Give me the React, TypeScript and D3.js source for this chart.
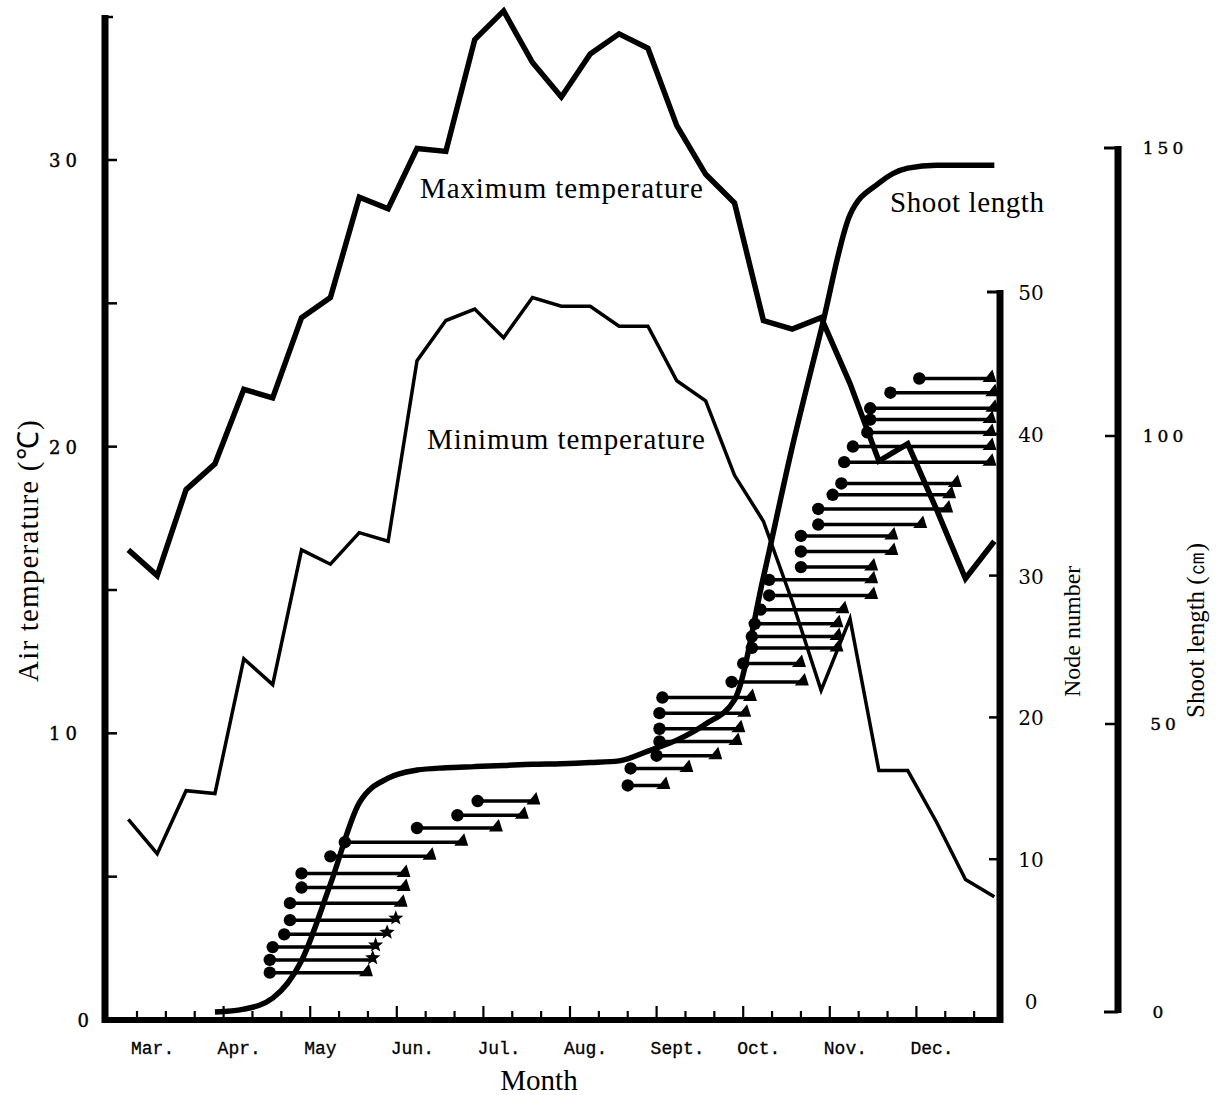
import React from "react";
import * as d3 from "d3";

// ---------- data ----------
const monthLabels = ["Mar.", "Apr.", "May", "Jun.", "Jul.", "Aug.", "Sept.", "Oct.", "Nov.", "Dec."];

// one value per 10-day period (31 readings, Mar -> Dec)
const maxTemperature = [16.4, 15.5, 18.5, 19.4, 22.0, 21.7, 24.5, 25.2, 28.7, 28.3, 30.4, 30.3, 34.2, 35.2, 33.4, 32.2, 33.7, 34.4, 33.9, 31.2, 29.5, 28.5, 24.4, 24.1, 24.5, 22.2, 19.5, 20.1, 17.8, 15.4, 16.7];
const minTemperature = [7.0, 5.8, 8.0, 7.9, 12.6, 11.7, 16.4, 15.9, 17.0, 16.7, 23.0, 24.4, 24.8, 23.8, 25.2, 24.9, 24.9, 24.2, 24.2, 22.3, 21.6, 19.0, 17.4, 14.6, 11.5, 14.0, 8.7, 8.7, 6.9, 4.9, 4.3];
const shootLength: (number | null)[] = [null, null, null, 0, 0.5, 2.4, 8.9, 22.2, 36.3, 40.6, 42.0, 42.4, 42.6, 42.8, 43.0, 43.1, 43.3, 43.6, 45.3, 47.2, 50.0, 54.2, 75.5, 98.1, 118.4, 138.4, 143.9, 146.5, 147.0, 147.0, 147.0];

const tempTicks = [0, 10, 20, 30];
const tempMinorTicks = [5, 10, 15, 20, 25, 30];
const nodeTicks = [0, 10, 20, 30, 40, 50];
const shootTicks = [0, 50, 100, 150];

// node rows: node number, date of unfolding (circle) and date of fall (triangle / star)
const nodeNumber = [2.0, 2.9, 3.8, 4.7, 5.7, 6.9, 8.0, 9.0, 10.2, 11.2, 12.2, 13.1, 14.1, 15.2, 16.4, 17.3, 18.3, 19.2, 20.3, 21.4, 22.5, 23.8, 24.9, 25.7, 26.6, 27.6, 28.6, 29.7, 30.6, 31.7, 32.8, 33.6, 34.7, 35.7, 36.5, 38.0, 39.1, 40.1, 41.0, 41.8, 42.9, 43.9];
const unfoldDate = ["04-17", "04-17", "04-18", "04-22", "04-24", "04-24", "04-28", "04-28", "05-08", "05-13", "06-08", "06-22", "06-29", "08-21", "08-22", "08-31", "09-02", "09-02", "09-02", "09-03", "09-27", "10-01", "10-04", "10-04", "10-05", "10-07", "10-10", "10-10", "10-21", "10-21", "10-21", "10-27", "10-27", "11-02", "11-05", "11-06", "11-09", "11-14", "11-15", "11-15", "11-22", "12-02"];
const fallDate = ["05-21", "05-23", "05-24", "05-28", "06-01", "06-03", "06-04", "06-04", "06-13", "06-24", "07-06", "07-15", "07-19", "09-04", "09-12", "09-22", "09-29", "09-30", "10-02", "10-04", "10-22", "10-21", "11-04", "11-04", "11-04", "11-06", "11-16", "11-16", "11-16", "11-23", "11-23", "12-03", "12-12", "12-13", "12-15", "12-27", "12-27", "12-27", "12-27", "12-28", "12-28", "12-27"];
const fallMarker = ["triangle", "star", "star", "star", "star", "triangle", "triangle", "triangle", "triangle", "triangle", "triangle", "triangle", "triangle", "triangle", "triangle", "triangle", "triangle", "triangle", "triangle", "triangle", "triangle", "triangle", "triangle", "triangle", "triangle", "triangle", "triangle", "triangle", "triangle", "triangle", "triangle", "triangle", "triangle", "triangle", "triangle", "triangle", "triangle", "triangle", "triangle", "triangle", "triangle", "triangle"];

// ---------- helpers ----------
const dateToDekad = (s: string) => {
  const [m, d] = s.split("-").map(Number);
  return 3 * (m - 3) + (d - 1) / 10;
};

const starPath = (cx: number, cy: number, R: number, r: number) => {
  let p = "";
  for (let k = 0; k < 10; k++) {
    const a = -Math.PI / 2 + (k * Math.PI) / 5;
    const rad = k % 2 === 0 ? R : r;
    p += (k ? "L" : "M") + (cx + rad * Math.cos(a)).toFixed(1) + "," + (cy + rad * Math.sin(a)).toFixed(1);
  }
  return p + "Z";
};

const triPath = (x: number, y: number) =>
  `M${x - 9},${y + 3.5}L${x + 5},${y + 3.5}L${x + 1},${y - 9}Z`;

const SERIF = "'Liberation Serif', 'Times New Roman', serif";
const NUM = "'DejaVu Serif', serif";
const MONO = "'Liberation Mono', 'Courier New', monospace";

export default function App() {
  const x = d3.scaleLinear().domain([0, 30]).range([137, 1003]);
  const yT = d3.scaleLinear().domain([0, 35]).range([1020, 1020 - 35 * 28.667]);
  const yN = d3.scaleLinear().domain([0, 50]).range([1001, 292]);
  const yS = d3.scaleLinear().domain([0, 150]).range([1012, 148]);
  const ptX = (i: number) => x(i - 0.3);

  const tempLine = d3
    .line<number>()
    .x((_, i) => ptX(i))
    .y((d) => yT(d))
    .curve(d3.curveLinear);

  const shootLine = d3
    .line<number | null>()
    .defined((d) => d !== null)
    .x((_, i) => ptX(i))
    .y((d) => yS(d as number))
    .curve(d3.curveMonotoneX);

  const dekads = d3.range(0, 30);
  const nodeAxisX = 1000;
  const shootAxisX = 1118;

  return (
    <svg
      width={1222}
      height={1095}
      style={{ position: "absolute", left: 0, top: 0, display: "block" }}
    >
      <rect x={0} y={0} width={1222} height={1095} fill="#fff" />

      {/* node rows */}
      <g>
        {nodeNumber.map((n, k) => {
          const xs = x(dateToDekad(unfoldDate[k]));
          const xe = x(dateToDekad(fallDate[k]));
          const y = yN(n);
          return (
            <g key={k}>
              <line x1={xs} x2={xe} y1={y} y2={y} stroke="#000" strokeWidth={3.5} />
              <circle cx={xs} cy={y} r={6.2} fill="#000" />
              {fallMarker[k] === "star" ? (
                <path d={starPath(xe - 1, y - 2, 8, 3.4)} fill="#000" />
              ) : (
                <path d={triPath(xe, y)} fill="#000" />
              )}
            </g>
          );
        })}
      </g>

      {/* temperature lines */}
      <path d={tempLine(minTemperature) || ""} fill="none" stroke="#000" strokeWidth={3.5} strokeLinejoin="miter" />
      <path d={tempLine(maxTemperature) || ""} fill="none" stroke="#000" strokeWidth={5.5} strokeLinejoin="miter" />
      {/* shoot length */}
      <path d={shootLine(shootLength) || ""} fill="none" stroke="#000" strokeWidth={5.5} />

      {/* left axis */}
      <line x1={105} x2={105} y1={15} y2={1023} stroke="#000" strokeWidth={7} />
      <line x1={105} x2={113} y1={17} y2={17} stroke="#000" strokeWidth={2.5} />
      {tempMinorTicks.map((t) => (
        <line key={t} x1={105} x2={117} y1={yT(t)} y2={yT(t)} stroke="#000" strokeWidth={2.5} />
      ))}
      {tempTicks.map((t) => (
        <text
          key={t}
          x={t === 0 ? 94 : 82}
          y={yT(t) + 7}
          textAnchor="end"
          fontFamily={NUM}
          fontSize={18}
          letterSpacing={5}
          stroke="#000"
          strokeWidth={0.4}
          fill="#000"
        >
          {t}
        </text>
      ))}

      {/* x axis */}
      <line x1={102} x2={1003} y1={1020} y2={1020} stroke="#000" strokeWidth={6} />
      {dekads.map((i) => (
        <line
          key={i}
          x1={x(i)}
          x2={x(i)}
          y1={1018}
          y2={i % 3 === 0 && i > 0 ? 1006 : 1011}
          stroke="#000"
          strokeWidth={2.2}
        />
      ))}
      {monthLabels.map((m, k) => (
        <text
          key={m}
          x={x(3 * k) - 6}
          y={1054}
          fontFamily={MONO}
          fontSize={18}
          stroke="#000"
          strokeWidth={0.3}
          fill="#000"
        >
          {m}
        </text>
      ))}
      <text x={539} y={1090} textAnchor="middle" fontFamily={SERIF} fontSize={29} fill="#000">
        Month
      </text>

      {/* node number axis */}
      <line x1={nodeAxisX} x2={nodeAxisX} y1={290} y2={1023} stroke="#000" strokeWidth={7} />
      <line x1={987} x2={nodeAxisX} y1={yN(50)} y2={yN(50)} stroke="#000" strokeWidth={3} />
      {nodeTicks
        .filter((t) => t > 0 && t < 50)
        .map((t) => (
          <line key={t} x1={989} x2={nodeAxisX} y1={yN(t)} y2={yN(t)} stroke="#000" strokeWidth={2.5} />
        ))}
      {nodeTicks.map((t) => (
        <text key={t} x={1031} y={yN(t) + 8} textAnchor="middle" fontFamily={NUM} fontSize={20} fill="#000">
          {t}
        </text>
      ))}
      <text
        transform="translate(1080,697) rotate(-90)"
        fontFamily={SERIF}
        fontSize={24}
        fill="#000"
      >
        Node number
      </text>

      {/* shoot length axis */}
      <line x1={shootAxisX} x2={shootAxisX} y1={146} y2={1013} stroke="#000" strokeWidth={7} />
      <line x1={1104} x2={shootAxisX} y1={yS(150)} y2={yS(150)} stroke="#000" strokeWidth={3} />
      <line x1={1104} x2={shootAxisX} y1={yS(0)} y2={yS(0)} stroke="#000" strokeWidth={3} />
      {shootTicks
        .filter((t) => t > 0 && t < 150)
        .map((t) => (
          <line key={t} x1={1105} x2={shootAxisX} y1={yS(t)} y2={yS(t)} stroke="#000" strokeWidth={2.5} />
        ))}
      {shootTicks.map((t) => (
        <text
          key={t}
          x={t === 0 ? 1158 : 1165}
          y={yS(t) + 6}
          textAnchor="middle"
          fontFamily={NUM}
          fontSize={17}
          letterSpacing={t === 0 ? 0 : 4}
          stroke="#000"
          strokeWidth={0.4}
          fill="#000"
        >
          {t}
        </text>
      ))}
      <text
        transform="translate(1204,718) rotate(-90)"
        fontFamily={SERIF}
        fontSize={25}
        fill="#000"
      >
        {"Shoot length  (㎝)"}
      </text>

      {/* left title */}
      <text
        transform="translate(38,682) rotate(-90)"
        fontFamily={SERIF}
        fontSize={29}
        letterSpacing={1.2}
        fill="#000"
      >
        {"Air temperature  (℃)"}
      </text>

      {/* in-plot labels */}
      <text x={420} y={198} fontFamily={SERIF} fontSize={29} letterSpacing={0.9} fill="#000">
        Maximum temperature
      </text>
      <text x={427} y={449} fontFamily={SERIF} fontSize={29} letterSpacing={0.9} fill="#000">
        Minimum temperature
      </text>
      <text x={890} y={212} fontFamily={SERIF} fontSize={29} letterSpacing={0.6} fill="#000">
        Shoot length
      </text>
    </svg>
  );
}
